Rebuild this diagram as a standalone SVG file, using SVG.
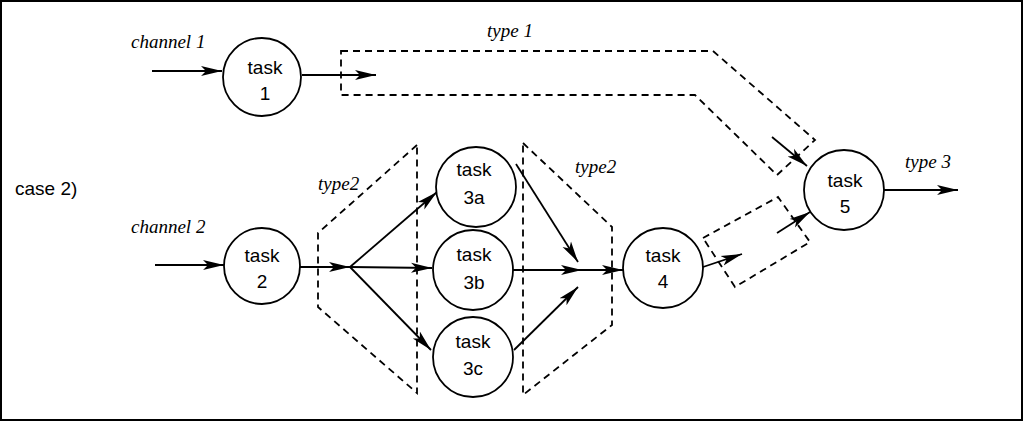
<svg xmlns="http://www.w3.org/2000/svg" width="1024" height="423" viewBox="0 0 1024 423">
<style>
.node circle{fill:#fff;stroke:#000;stroke-width:1.8}
.node text{font-family:"Liberation Sans",Arial,sans-serif;font-size:19px;fill:#000;text-anchor:middle}
.lbl{font-family:"Liberation Serif","Times New Roman",serif;font-style:italic;font-size:19px;fill:#000}
.sans{font-family:"Liberation Sans",Arial,sans-serif;font-size:19px;fill:#000}
.dash{fill:none;stroke:#000;stroke-width:1.8;stroke-dasharray:7,5}
.conn line{stroke:#000;stroke-width:1.8;marker-end:url(#ah)}
</style>
<defs>
<marker id="ah" markerWidth="24" markerHeight="12" refX="21" refY="6" orient="auto" markerUnits="userSpaceOnUse">
<path d="M0,1 L21,6 L0,11 L5,6 z" fill="#000"/>
</marker>
</defs>
<rect x="1" y="1" width="1021" height="419" fill="#fff" stroke="#000" stroke-width="2"/>
<text class="sans" x="15" y="195">case 2)</text>
<g id="regions">
<path class="dash" d="M341,51 L713,51 L815,140 L777,175 L695,95 L341,95 Z"/>
<path class="dash" d="M417,145 L318,233 L318,307 L417,393 Z"/>
<path class="dash" d="M523,143 L612,227 L612,325 L523,395 Z"/>
<path class="dash" d="M703,238 L778,197 L810,242 L735,287 Z"/>
</g>
<g id="labels">
<text class="lbl" x="131" y="48">channel 1</text>
<text class="lbl" x="131" y="233">channel 2</text>
<text class="lbl" x="487" y="37">type 1</text>
<text class="lbl" x="318" y="190">type2</text>
<text class="lbl" x="575" y="173">type2</text>
<text class="lbl" x="905" y="168">type 3</text>
</g>
<g id="connectors" class="conn">
<line x1="152" y1="71" x2="222" y2="71"/>
<line x1="302" y1="75" x2="376" y2="75"/>
<line x1="155" y1="265" x2="224" y2="265"/>
<line x1="300" y1="267" x2="350" y2="267"/>
<line x1="350" y1="267" x2="437" y2="192"/>
<line x1="350" y1="267" x2="432" y2="268"/>
<line x1="350" y1="267" x2="431" y2="350"/>
<line x1="516" y1="164" x2="578" y2="262"/>
<line x1="513" y1="270" x2="582" y2="270"/>
<line x1="582" y1="270" x2="623" y2="270"/>
<line x1="514" y1="350" x2="578" y2="287"/>
<line x1="703" y1="267" x2="742" y2="254"/>
<line x1="772" y1="137" x2="807" y2="166"/>
<line x1="777" y1="233" x2="810" y2="212"/>
<line x1="884" y1="190" x2="958" y2="190"/>
</g>
<g id="task1" class="node"><circle cx="262" cy="77" r="39"/><text x="265" y="74">task</text><text x="265" y="100">1</text></g>
<g id="task2" class="node"><circle cx="262" cy="266" r="38"/><text x="262" y="262">task</text><text x="262" y="288">2</text></g>
<g id="task3a" class="node"><circle cx="476" cy="187" r="40"/><text x="474" y="176">task</text><text x="474" y="204">3a</text></g>
<g id="task3b" class="node"><circle cx="473" cy="270" r="40"/><text x="474" y="261">task</text><text x="474" y="289">3b</text></g>
<g id="task3c" class="node"><circle cx="473" cy="357" r="40"/><text x="473" y="348">task</text><text x="473" y="375">3c</text></g>
<g id="task4" class="node"><circle cx="663" cy="268" r="40"/><text x="663" y="262">task</text><text x="663" y="288">4</text></g>
<g id="task5" class="node"><circle cx="844" cy="190" r="40"/><text x="845" y="187">task</text><text x="845" y="213">5</text></g>
</svg>
